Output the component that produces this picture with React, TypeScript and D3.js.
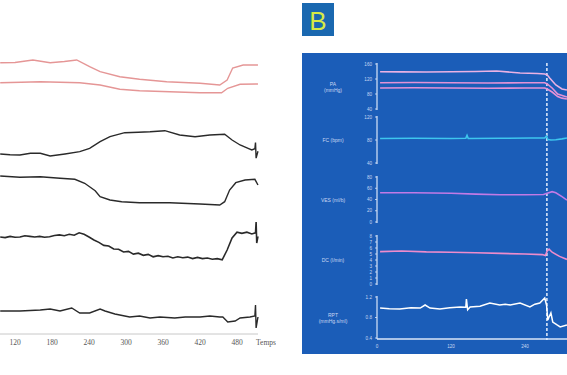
import React from 'react'
import * as d3 from 'd3'

type Pt = [number, number]

// ---- panel A : paper record (time in s, values in their own units) ----
const ticksA = [120, 180, 240, 300, 360, 420, 480]

const paSysA: Pt[] = [[96, 114.6], [120, 115], [149, 120], [177, 114.6], [200, 117], [220, 120], [241, 106.6], [258, 96.6], [290, 86.6], [322, 81.4], [366, 76.6], [420, 73.4], [452, 70], [464, 80], [473, 104], [490, 110], [514, 110]]
const paDiaA: Pt[] = [[96, 74.6], [130, 75.5], [161, 76.6], [225, 74.6], [258, 70], [290, 61.4], [322, 58.6], [371, 56.6], [420, 54.6], [455, 54.6], [465, 63.4], [485, 71.4], [514, 72]]
const fcA: Pt[] = [[96, 57.6], [112, 56.5], [128, 56], [145, 58.7], [161, 58.7], [177, 54.4], [201, 57.6], [225, 61.3], [241, 66.7], [258, 77.3], [274, 85.3], [298, 91.7], [320, 92.5], [339, 93.3], [363, 94.9], [387, 88], [412, 85.3], [436, 88], [460, 89.1], [472, 80], [485, 72], [498, 66.7], [504, 64], [509, 66], [510, 76], [511, 51], [514, 62]]
const vesA: Pt[] = [[96, 78], [128, 75.4], [161, 76.6], [193, 73.4], [217, 71.4], [233, 63.4], [250, 48.6], [258, 36.6], [274, 30], [293, 26.6], [322, 24.6], [371, 24.6], [420, 22], [452, 20], [460, 26.6], [468, 50], [478, 64.6], [493, 70], [509, 71.4], [514, 60]]
const dcA: Pt[] = [[96, 5.5], [104, 5.4], [112, 5.6], [120, 5.45], [128, 5.5], [136, 5.7], [144, 5.6], [152, 5.5], [160, 5.6], [168, 5.45], [176, 5.55], [184, 5.75], [192, 5.85], [200, 5.7], [208, 5.95], [216, 5.8], [224, 6.2], [232, 5.95], [240, 5.5], [248, 5.0], [256, 4.6], [264, 4.1], [272, 4.0], [280, 3.5], [288, 3.45], [296, 3.0], [304, 3.1], [312, 2.65], [320, 2.8], [328, 2.45], [336, 2.6], [344, 2.2], [352, 2.4], [360, 2.2], [368, 2.3], [376, 2.0], [384, 2.2], [392, 2.05], [400, 2.15], [408, 1.9], [416, 2.1], [424, 1.9], [432, 2.0], [440, 1.8], [448, 1.9], [456, 1.7], [464, 3.33], [472, 5.33], [480, 6.3], [488, 6.1], [496, 6.3], [504, 6.0], [510, 6.2], [511, 8.0], [512, 4.5], [514, 5.6]]
const rptA: Pt[] = [[96, 0.78], [128, 0.78], [161, 0.8], [177, 0.82], [193, 0.78], [212, 0.84], [225, 0.74], [241, 0.74], [258, 0.82], [266, 0.78], [282, 0.72], [298, 0.68], [306, 0.66], [322, 0.68], [339, 0.64], [355, 0.66], [379, 0.64], [396, 0.66], [420, 0.66], [436, 0.68], [452, 0.66], [457, 0.66], [465, 0.56], [477, 0.58], [485, 0.64], [501, 0.66], [509, 0.68], [510, 0.9], [511, 0.44], [514, 0.66]]

// ---- panel B : monitor record ----
const ticksB = [0, 120, 240]
const tiltTime = 275.5

const paSysB: Pt[] = [[5, 139.5], [40, 139], [80, 138.7], [120, 139.5], [160, 140], [194, 141.3], [232, 136], [260, 134.5], [272, 133.3], [276, 131], [280, 122.7], [290, 104], [300, 93.3], [308, 90.7]]
const paMidB: Pt[] = [[5, 110], [60, 110.5], [120, 110], [180, 109.5], [240, 110], [272, 110], [276, 106.7], [284, 96], [293, 80], [308, 72]]
const paDiaB: Pt[] = [[5, 96], [60, 96.5], [120, 96], [180, 95.5], [240, 96], [272, 96], [276, 93.3], [284, 85.3], [293, 73.3], [300, 69], [308, 66.7]]
const fcB: Pt[] = [[5, 82.5], [60, 83], [120, 82.5], [144, 83], [146, 88], [148, 82.5], [200, 83], [250, 83.5], [272, 83.5], [275, 87], [277, 81], [282, 80], [290, 80.5], [300, 82], [308, 83.5]]
const vesB: Pt[] = [[5, 52], [60, 52], [120, 51], [160, 49.5], [200, 48.5], [240, 48.5], [270, 48.8], [276, 51], [284, 54], [290, 52], [300, 45], [308, 39]]
const dcB: Pt[] = [[5, 5.4], [40, 5.5], [80, 5.35], [120, 5.3], [160, 5.2], [200, 5.1], [240, 5.0], [268, 4.9], [273, 4.75], [276, 5.5], [279, 5.8], [284, 5.3], [296, 4.6], [308, 4.1]]
const rptB: Pt[] = [[5, 0.985], [20, 0.97], [37, 0.966], [55, 0.99], [70, 0.985], [78, 1.044], [86, 0.985], [102, 0.966], [118, 0.99], [135, 1.005], [144, 1.0], [145, 1.16], [147, 0.95], [151, 1.005], [167, 1.02], [183, 1.083], [199, 1.044], [208, 1.06], [216, 1.044], [232, 1.083], [248, 1.005], [256, 1.06], [264, 1.083], [272, 1.18], [275, 1.04], [277, 0.75], [279, 0.81], [282, 0.888], [285, 0.712], [292, 0.654], [297, 0.615], [308, 0.654]]

const paTicks = [160, 120, 80, 40]
const fcTicks = [120, 80, 40]
const vesTicks = [80, 60, 40, 20, 0]
const dcTicks = [8, 7, 6, 5, 4, 3, 2, 1, 0]
const rptTicks = [1.2, 0.8, 0.4]

const App = () => {
    const xA = d3.scaleLinear().domain([120, 480]).range([15, 237])
    const xB = d3.scaleLinear().domain([0, 240]).range([377, 525])

    // one scale per trace in panel A (no axes drawn there)
    const yPaA = d3.scaleLinear().domain([40, 160]).range([100, 40])
    const yFcA = d3.scaleLinear().domain([40, 120]).range([165, 115])
    const yVesA = d3.scaleLinear().domain([0, 100]).range([215, 165])
    const yDcA = d3.scaleLinear().domain([0, 8]).range([270, 222])
    const yRptA = d3.scaleLinear().domain([0.4, 1.2]).range([330, 290])

    const yPaB = d3.scaleLinear().domain([40, 160]).range([109, 64])
    const yFcB = d3.scaleLinear().domain([40, 120]).range([163, 117])
    const yVesB = d3.scaleLinear().domain([0, 80]).range([222, 177])
    const yDcB = d3.scaleLinear().domain([0, 8]).range([284, 236])
    const yRptB = d3.scaleLinear().domain([0.4, 1.2]).range([338, 297])

    const path = (data: Pt[], x: any, y: any) =>
        d3.line<Pt>().x(d => x(d[0])).y(d => y(d[1]))(data) || ''

    const axisCol = '#dbe6f8'
    const txtCol = '#c9d7f2'

    // left axes of panel B
    const axes = [
        { y: yPaB, ticks: paTicks, lab: ['PA', '(mmHg)'], fmt: (v: number) => String(v) },
        { y: yFcB, ticks: fcTicks, lab: ['FC (bpm)'], fmt: (v: number) => String(v) },
        { y: yVesB, ticks: vesTicks, lab: ['VES (ml/b)'], fmt: (v: number) => String(v) },
        { y: yDcB, ticks: dcTicks, lab: ['DC (l/min)'], fmt: (v: number) => String(v) },
        { y: yRptB, ticks: rptTicks, lab: ['RPT', '(mmHg.s/ml)'], fmt: (v: number) => v.toFixed(1) },
    ]

    return (
        <svg width={567} height={375} style={{ position: 'absolute', left: 0, top: 0, background: '#fff' }}>
            {/* panel A */}
            <g>
                <line x1={0} x2={258} y1={334} y2={334} stroke="#c8c8c8" strokeWidth={1} />
                <g opacity={0.99}>
                    {ticksA.map(t => (
                        <text key={t} x={xA(t)} y={345} textAnchor="middle" fontFamily="Liberation Serif, serif" fontSize={7.5} fill="#555">{t}</text>
                    ))}
                    <text x={256} y={345} fontFamily="Liberation Serif, serif" fontSize={7.5} fill="#555">Temps</text>
                </g>
                <path d={path(paSysA, xA, yPaA)} fill="none" stroke="#e59696" strokeWidth={1.4} />
                <path d={path(paDiaA, xA, yPaA)} fill="none" stroke="#e59696" strokeWidth={1.4} />
                <path d={path(fcA, xA, yFcA)} fill="none" stroke="#2a2a2a" strokeWidth={1.4} />
                <path d={path(vesA, xA, yVesA)} fill="none" stroke="#2a2a2a" strokeWidth={1.4} />
                <path d={path(dcA, xA, yDcA)} fill="none" stroke="#2a2a2a" strokeWidth={1.6} />
                <path d={path(rptA, xA, yRptA)} fill="none" stroke="#2a2a2a" strokeWidth={1.4} />
            </g>

            {/* panel B */}
            <g>
                <rect x={302} y={3} width={32} height={33} fill="#1a68b0" />
                <text x={318} y={30} textAnchor="middle" fontFamily="Liberation Sans, sans-serif" fontSize={26} fill="#d6ea45">B</text>

                <rect x={302} y={53} width={265} height={301} fill="#1b5db8" />

                {axes.map((a, i) => {
                    const [lo, hi] = d3.extent(a.ticks) as [number, number]
                    const yTop = a.y(hi), yBot = a.y(lo)
                    const mid = (yTop + yBot) / 2
                    return (
                        <g key={i}>
                            <line x1={377} x2={377} y1={yTop - 1} y2={yBot + 1} stroke={axisCol} strokeWidth={1.2} />
                            {a.ticks.map(t => (
                                <g key={t}>
                                    <line x1={375} x2={377} y1={a.y(t)} y2={a.y(t)} stroke={axisCol} strokeWidth={0.8} />
                                    <text x={372} y={a.y(t) + 1.6} textAnchor="end" fontFamily="Liberation Sans, sans-serif" fontSize={4.6} fill={txtCol}>{a.fmt(t)}</text>
                                </g>
                            ))}
                            {a.lab.map((s, j) => (
                                <text key={j} x={333} y={mid + 2 + (j - (a.lab.length - 1) / 2) * 6} textAnchor="middle" fontFamily="Liberation Sans, sans-serif" fontSize={5} fill={txtCol}>{s}</text>
                            ))}
                        </g>
                    )
                })}

                <line x1={377} x2={567} y1={339} y2={339} stroke={axisCol} strokeWidth={1.3} />
                {ticksB.map(t => (
                    <text key={t} x={xB(t)} y={348} textAnchor="middle" fontFamily="Liberation Sans, sans-serif" fontSize={4.6} fill={txtCol}>{t}</text>
                ))}

                <line x1={xB(tiltTime)} x2={xB(tiltTime)} y1={63} y2={340} stroke="#e6eefc" strokeWidth={1.5} strokeDasharray="3,2" />

                <path d={path(paSysB, xB, yPaB)} fill="none" stroke="#eab2e4" strokeWidth={1.6} />
                <path d={path(paMidB, xB, yPaB)} fill="none" stroke="#e492d6" strokeWidth={1.6} />
                <path d={path(paDiaB, xB, yPaB)} fill="none" stroke="#e492d6" strokeWidth={1.6} />
                <path d={path(fcB, xB, yFcB)} fill="none" stroke="#3ec6ee" strokeWidth={1.6} />
                <path d={path(vesB, xB, yVesB)} fill="none" stroke="#c27ae6" strokeWidth={1.6} />
                <path d={path(dcB, xB, yDcB)} fill="none" stroke="#ee8ccc" strokeWidth={1.6} />
                <path d={path(rptB, xB, yRptB)} fill="none" stroke="#ffffff" strokeWidth={1.5} />
            </g>
        </svg>
    )
}

export default App
